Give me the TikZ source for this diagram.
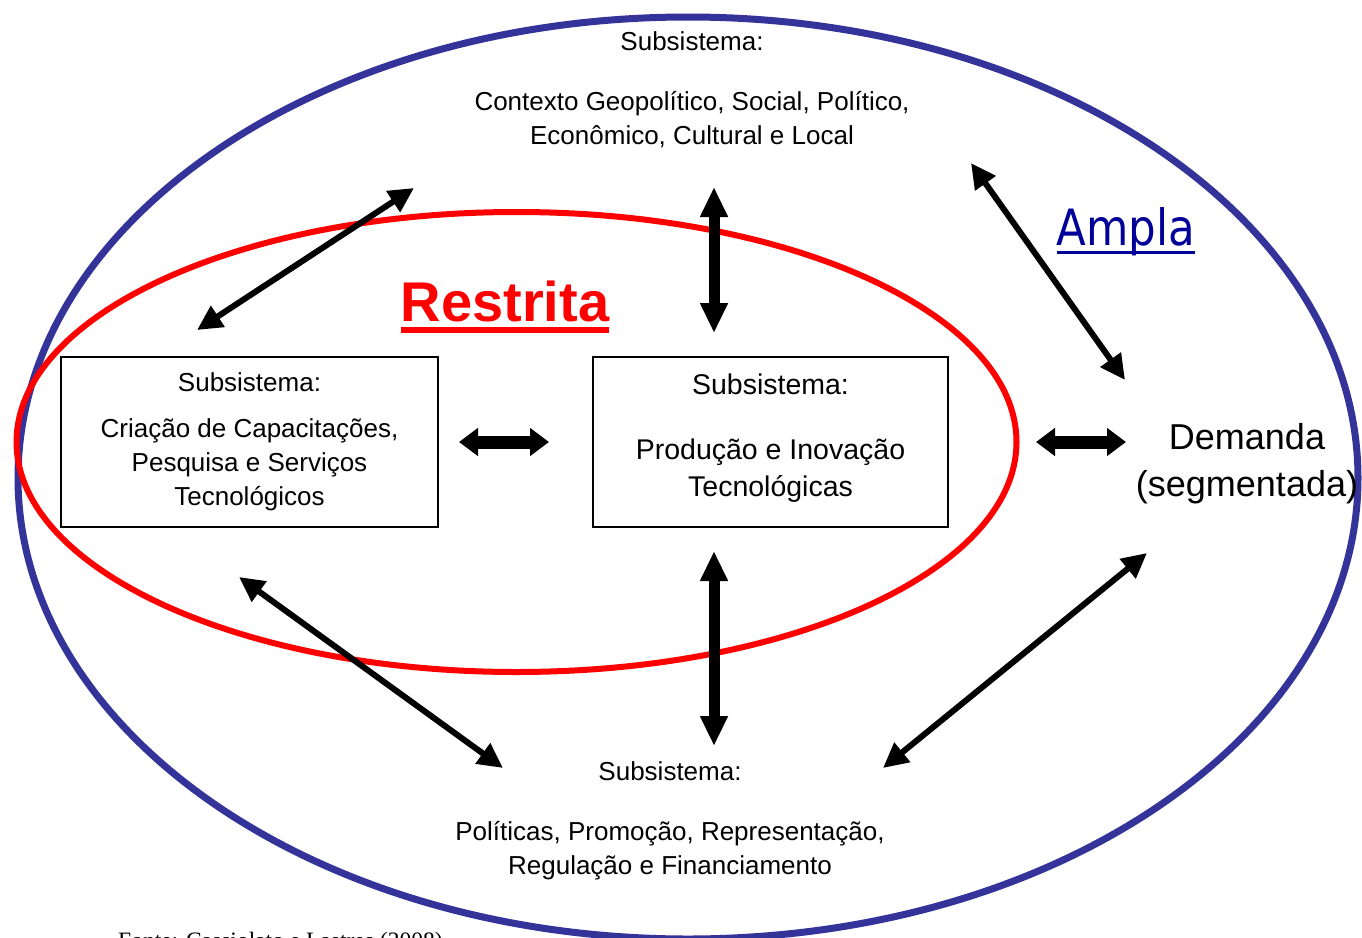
\documentclass[tikz,border=0pt]{standalone}
\usepackage{fontspec}
\setmainfont{Liberation Sans}
\newfontfamily\amplafont[FakeStretch=0.87]{DejaVu Sans}
\newfontfamily\fontefont{Liberation Serif}
\usetikzlibrary{arrows.meta}
\definecolor{outerblue}{RGB}{51,51,153}
\definecolor{amplanavy}{RGB}{0,0,153}

\begin{document}
\begin{tikzpicture}[x=1pt,y=-1pt,
  subtext/.style={align=center,font=\fontsize{26}{34}\selectfont},
  subbox/.style={draw,line width=1.3pt,minimum height=170pt,inner sep=0pt},
  thinarrow/.style={line width=6pt,{Triangle[length=25pt,width=24pt]}-{Triangle[length=25pt,width=24pt]}},
  vertarrow/.style={line width=11pt,{Triangle[length=30pt,width=26pt]}-{Triangle[length=30pt,width=26pt]}},
  horizarrow/.style={line width=13pt,{Triangle[length=19pt,width=27pt]}-{Triangle[length=19pt,width=27pt]}}]
  \useasboundingbox (0,0) rectangle (1362,937);
  \clip (0,0) rectangle (1362,937);

  %draw the two ellipses
  \draw[outerblue,line width=7pt] (688,478) ellipse [x radius=670pt,y radius=461pt];
  \draw[red,line width=6pt] (516.5,442) ellipse [x radius=500pt,y radius=230pt];

  %draw subsystems
  \node[subbox,subtext,minimum width=377pt] (capacitacoes) at (249.5,442)
    {Subsistema:\\[12pt]Criação de Capacitações,\\Pesquisa e Serviços\\Tecnológicos};
  \node[subbox,align=center,font=\fontsize{28.5}{37}\selectfont,minimum width=355pt,text depth=14pt] (producao) at (770.5,442)
    {Subsistema:\\[28pt]Produção e Inovação\\Tecnológicas};
  \node[subtext] (contexto) at (692,90)
    {Subsistema:\\[26pt]Contexto Geopolítico, Social, Político,\\Econômico, Cultural e Local};
  \node[subtext] (politicas) at (670,821)
    {Subsistema:\\[26pt]Políticas, Promoção, Representação,\\Regulação e Financiamento};
  \node[align=center,font=\fontsize{36}{47}\selectfont] (demanda) at (1247,463.5)
    {Demanda\\(segmentada)};

  %draw titles
  \node[anchor=base,inner sep=0pt,text=red,font=\fontsize{56}{60}\selectfont\bfseries] (restrita) at (505,321) {Restrita};
  \draw[red,line width=6pt] ([yshift=-9pt]restrita.base west) -- ([yshift=-9pt]restrita.base east);
  \node[anchor=base,inner sep=0pt,text=amplanavy,font=\amplafont\fontsize{50}{54}\selectfont] (ampla) at (1126,245) {Ampla};
  \draw[amplanavy,line width=3pt] ([yshift=-7pt]ampla.base west) -- ([yshift=-7pt]ampla.base east);
  \node[anchor=base west,inner sep=0pt,font=\fontefont\fontsize{23.5}{26}\selectfont] (fonte) at (118,948)
    {Fonte: Cassiolato e Lastres (2008)};

  %arrow ends
  \coordinate (capUp) at (197,330);
  \coordinate (ctxLeft) at (414,188);
  \coordinate (ctxDown) at (714,187);
  \coordinate (prodUp) at (714,333);
  \coordinate (ctxRight) at (971,163);
  \coordinate (demUp) at (1125,380);
  \coordinate (capRight) at (459,442);
  \coordinate (prodLeft) at (549,442);
  \coordinate (prodRight) at (1036,442);
  \coordinate (demLeft) at (1126,442);
  \coordinate (capDown) at (239,577);
  \coordinate (polLeft) at (503,768);
  \coordinate (prodDown) at (714,551);
  \coordinate (polUp) at (714,746);
  \coordinate (polRight) at (883,768);
  \coordinate (demDown) at (1147,553);

  %draw arrows
  \foreach \a/\b in {capUp/ctxLeft,ctxRight/demUp,capDown/polLeft,polRight/demDown}
     \draw[thinarrow] (\a) -- (\b);
  \draw[vertarrow] (ctxDown) -- (prodUp);
  \draw[vertarrow] (prodDown) -- (polUp);
  \draw[horizarrow] (capRight) -- (prodLeft);
  \draw[horizarrow] (prodRight) -- (demLeft);
\end{tikzpicture}
\end{document}
